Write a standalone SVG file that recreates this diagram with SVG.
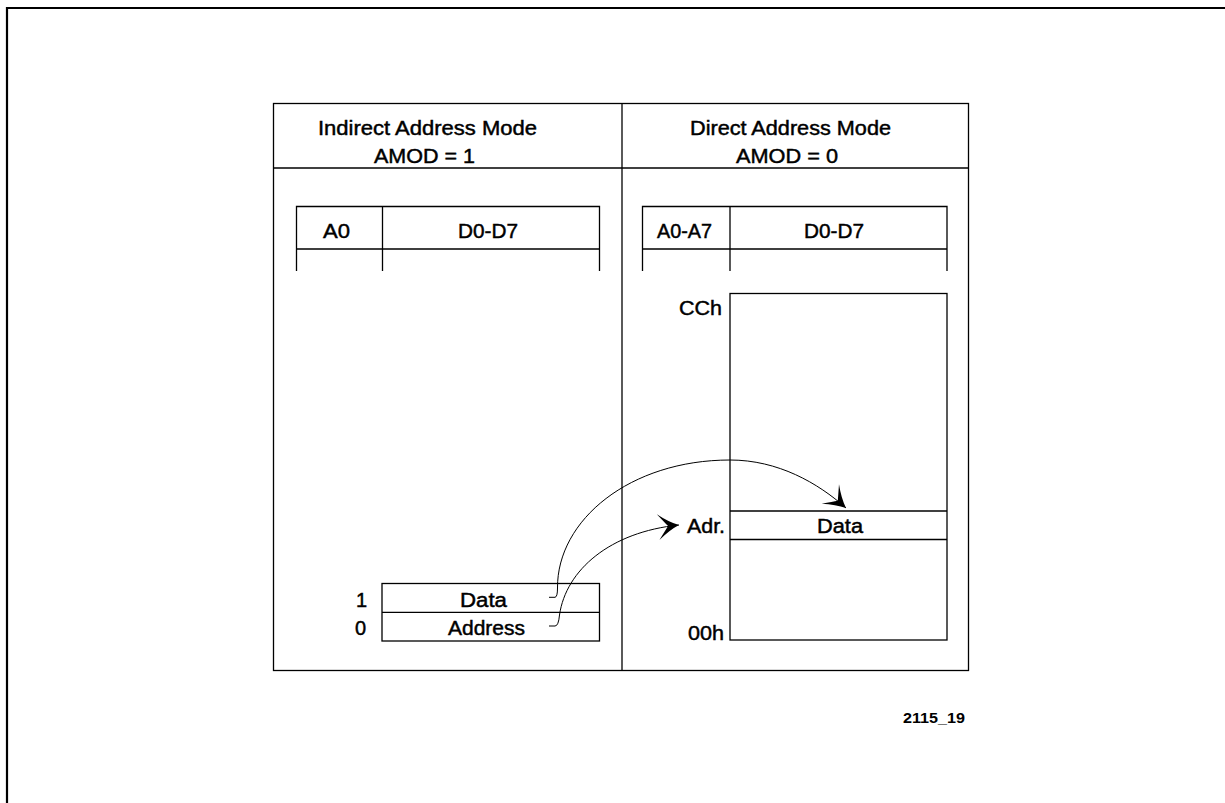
<svg xmlns="http://www.w3.org/2000/svg" width="1225" height="803" viewBox="0 0 1225 803">
<style>
.t{font-family:"Liberation Sans",Arial,sans-serif;font-size:20px;fill:#000;stroke:#000;stroke-width:0.45}
.s{font-family:"Liberation Sans",Arial,sans-serif;font-size:14px;font-weight:bold;fill:#000}
.ln{fill:none;stroke:#000;stroke-width:1.3}
.cv{fill:none;stroke:#000;stroke-width:1}
</style>
<defs>
<marker id="ah" markerUnits="userSpaceOnUse" orient="auto" markerWidth="40" markerHeight="40" refX="0" refY="0" viewBox="-25 -20 30 40" overflow="visible">
<path d="M0,0 Q-10,-4 -21,-13 Q-14,-4 -11,0 Q-14,4 -21,13 Q-10,4 0,0 Z" fill="#000"/>
</marker>
</defs>
<path d="M7,803 L7,8 L1225,8" fill="none" stroke="#000" stroke-width="2.2"/>
<g id="frame">
<rect class="ln" x="273.5" y="103.5" width="695" height="567"/>
<line class="ln" x1="622" y1="103.5" x2="622" y2="670.5"/>
<line class="ln" x1="273.5" y1="168" x2="968.5" y2="168"/>
<text class="t" x="318" y="135" textLength="219" lengthAdjust="spacingAndGlyphs">Indirect Address Mode</text>
<text class="t" x="374" y="163" textLength="101" lengthAdjust="spacingAndGlyphs">AMOD = 1</text>
<text class="t" x="690" y="135" textLength="201" lengthAdjust="spacingAndGlyphs">Direct Address Mode</text>
<text class="t" x="736" y="163" textLength="102" lengthAdjust="spacingAndGlyphs">AMOD = 0</text>
</g>
<g id="left-table">
<path class="ln" d="M296.5,271 L296.5,206.5 L599.5,206.5 L599.5,271 M296.5,249 L599.5,249 M382.5,206.5 L382.5,271"/>
<text class="t" x="323" y="238" textLength="27" lengthAdjust="spacingAndGlyphs">A0</text>
<text class="t" x="458" y="238" textLength="60" lengthAdjust="spacingAndGlyphs">D0-D7</text>
</g>
<g id="right-table">
<path class="ln" d="M642.5,271 L642.5,206.5 L947,206.5 L947,271 M642.5,249 L947,249 M730,206.5 L730,271"/>
<text class="t" x="657" y="238" textLength="55" lengthAdjust="spacingAndGlyphs">A0-A7</text>
<text class="t" x="804" y="238" textLength="60" lengthAdjust="spacingAndGlyphs">D0-D7</text>
</g>
<g id="memory">
<rect class="ln" x="730" y="293.5" width="217" height="346.5"/>
<line class="ln" x1="730" y1="511" x2="947" y2="511"/>
<line class="ln" x1="730" y1="539.5" x2="947" y2="539.5"/>
<text class="t" x="679" y="315" textLength="43" lengthAdjust="spacingAndGlyphs">CCh</text>
<text class="t" x="687" y="533" textLength="38" lengthAdjust="spacingAndGlyphs">Adr.</text>
<text class="t" x="817" y="533" textLength="46" lengthAdjust="spacingAndGlyphs">Data</text>
<text class="t" x="688" y="640" textLength="36" lengthAdjust="spacingAndGlyphs">00h</text>
</g>
<g id="indirect-regs">
<rect class="ln" x="382" y="583.5" width="217.5" height="57.5"/>
<line class="ln" x1="382" y1="612.3" x2="599.5" y2="612.3"/>
<text class="t" x="356" y="607">1</text>
<text class="t" x="355" y="635">0</text>
<text class="t" x="460" y="607" textLength="47" lengthAdjust="spacingAndGlyphs">Data</text>
<text class="t" x="448" y="635" textLength="77" lengthAdjust="spacingAndGlyphs">Address</text>
</g>
<g id="connectors">
<path class="cv" d="M549,597.3 L555,597.3 Q557.5,597 557.5,588 C557,520 630,460 730,460 C778,460 818,483 846,508" marker-end="url(#ah)"/>
<path class="cv" d="M549,626 L555,626 Q558.5,626 559.5,615 C566,570 610,532 679,525" marker-end="url(#ah)"/>
</g>
<text class="s" x="903" y="723" textLength="62" lengthAdjust="spacingAndGlyphs">2115_19</text>
</svg>
